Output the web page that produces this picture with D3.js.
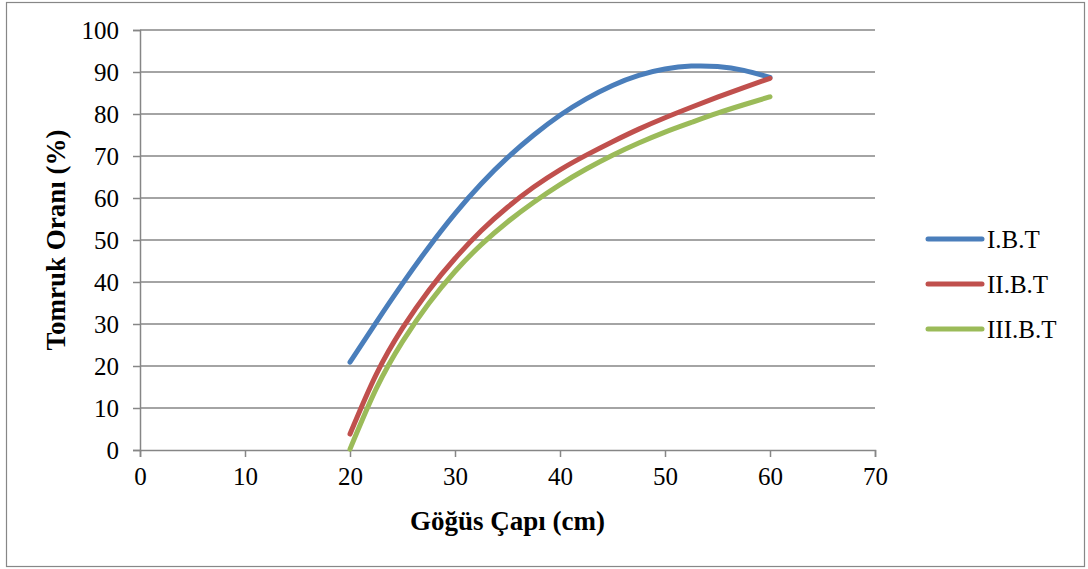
<!DOCTYPE html>
<html>
<head>
<meta charset="utf-8">
<script src="https://cdn.jsdelivr.net/npm/d3@7"></script>
<style>
  body { margin: 0; background: #fff; }
  text { font-family: "Liberation Serif", "Times New Roman", serif; fill: #000; }
</style>
</head>
<body>
<div id="chart"></div>
<script>
// values
var xValues = [20, 22.5, 25, 27.5, 30, 32.5, 35, 37.5, 40, 42.5, 45, 47.5, 50, 52.5, 55, 57.5, 60];
var ibt   = [20.9, 30.4, 39.6, 48.3, 56.3, 63.4, 69.6, 75.0, 79.7, 83.6, 86.8, 89.2, 90.7, 91.4, 91.3, 90.4, 88.7];
var iibt  = [3.8, 18.0, 29.0, 38.0, 45.6, 52.2, 57.8, 62.6, 66.7, 70.2, 73.4, 76.4, 79.1, 81.6, 84.0, 86.3, 88.5];
var iiibt = [0.2, 14.6, 25.8, 34.9, 42.5, 48.9, 54.3, 59.0, 63.2, 66.9, 70.2, 73.1, 75.7, 78.0, 80.2, 82.2, 84.1];
var seriesNames = ["I.B.T", "II.B.T", "III.B.T"];
var seriesColors = ["#4a7ebb", "#c0504d", "#9bbb59"];
var xTicks = [0, 10, 20, 30, 40, 50, 60, 70];
var yTicks = [0, 10, 20, 30, 40, 50, 60, 70, 80, 90, 100];
var xTitle = "Göğüs Çapı (cm)";
var yTitle = "Tomruk Oranı (%)";

var W = 1088, H = 569;
var margin = {top: 30, left: 140, right: 213, bottom: 119};
var width = W - margin.left - margin.right,
    height = H - margin.top - margin.bottom;

var svg = d3.select("#chart").append("svg")
    .attr("width", W)
    .attr("height", H);

// outer frame
svg.append("rect")
    .attr("x", 6.5).attr("y", 2.5)
    .attr("width", 1078).attr("height", 564)
    .attr("fill", "none")
    .attr("stroke", "#878787")
    .attr("stroke-width", 1.2);

var g = svg.append("g")
    .attr("transform", "translate(" + margin.left + "," + margin.top + ")");

var x = d3.scaleLinear().domain([0, 70]).range([0, width]);
var y = d3.scaleLinear().domain([0, 100]).range([height, 0]);

// gridlines
g.append("g")
  .selectAll("line")
  .data(yTicks.filter(function(d) { return d > 0; }))
  .enter().append("line")
    .attr("x1", 0).attr("x2", width)
    .attr("y1", function(d) { return y(d); })
    .attr("y2", function(d) { return y(d); })
    .attr("stroke", "#868686")
    .attr("stroke-width", 1.5);

// axes
var xAxis = g.append("g")
    .attr("transform", "translate(0," + height + ")")
    .call(d3.axisBottom(x).tickValues(xTicks).tickSize(7).tickPadding(8));
var yAxis = g.append("g")
    .call(d3.axisLeft(y).tickValues(yTicks).tickSize(7).tickPadding(14));

[xAxis, yAxis].forEach(function(a) {
  a.select(".domain").attr("stroke", "#868686").attr("stroke-width", 1.5);
  a.selectAll(".tick line").attr("stroke", "#868686").attr("stroke-width", 1.5);
  a.selectAll(".tick text")
    .style("font-family", "'Liberation Serif', 'Times New Roman', serif")
    .style("font-size", "25px")
    .attr("fill", "#000");
});
yAxis.selectAll(".tick text").attr("dy", "0.34em");
xAxis.selectAll(".tick text").attr("dy", "0.8em");

// lines
var dataReady = [ibt, iibt, iiibt].map(function(vals, i) {
  return {
    name: seriesNames[i],
    color: seriesColors[i],
    values: xValues.map(function(xv, j) { return {x: xv, y: vals[j]}; })
  };
});

var line = d3.line()
    .curve(d3.curveNatural)
    .x(function(d) { return x(d.x); })
    .y(function(d) { return y(d.y); });

g.selectAll("myLines")
  .data(dataReady)
  .enter()
  .append("path")
    .attr("d", function(d) { return line(d.values); })
    .attr("stroke", function(d) { return d.color; })
    .attr("stroke-width", 5)
    .attr("stroke-linecap", "round")
    .attr("fill", "none");

// axis titles
svg.append("text")
    .attr("x", margin.left + width / 2)
    .attr("y", 530)
    .attr("text-anchor", "middle")
    .style("font-weight", "bold")
    .style("font-size", "27px")
    .text(xTitle);

svg.append("text")
    .attr("transform", "translate(65," + (margin.top + height / 2) + ") rotate(-90)")
    .attr("text-anchor", "middle")
    .style("font-weight", "bold")
    .style("font-size", "27px")
    .text(yTitle);

// legend
var legend = svg.selectAll("myLegend")
  .data(dataReady)
  .enter().append("g")
    .attr("transform", function(d, i) { return "translate(928," + (239 + i * 45) + ")"; });
legend.append("line")
    .attr("x1", 0).attr("x2", 54)
    .attr("stroke", function(d) { return d.color; })
    .attr("stroke-width", 5)
    .attr("stroke-linecap", "round");
legend.append("text")
    .attr("x", 59)
    .attr("dy", "0.34em")
    .style("font-size", "25px")
    .text(function(d) { return d.name; });
</script>
</body>
</html>
